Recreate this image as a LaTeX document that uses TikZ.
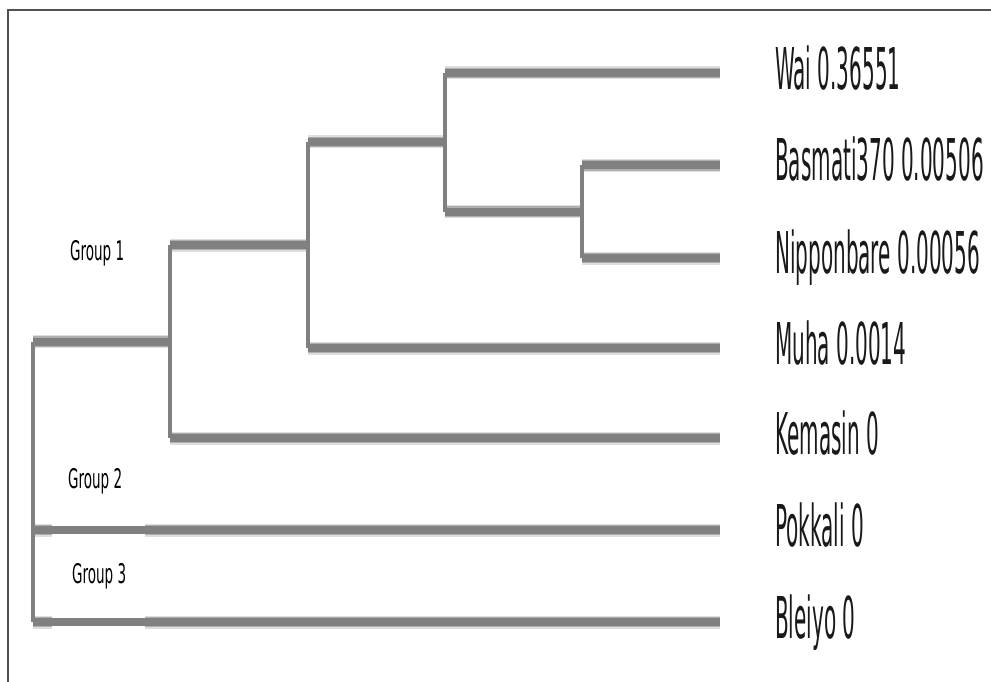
\documentclass[tikz,border=0pt]{standalone}
\usepackage{fontspec}
\newfontfamily\labfont{DejaVu Sans}
\definecolor{branchgray}{RGB}{128,128,128}
\definecolor{halogray}{RGB}{222,222,222}
\definecolor{halograyb}{RGB}{175,175,175}
\definecolor{framegray}{RGB}{80,80,80}
\definecolor{textdark}{RGB}{25,25,25}
\tikzset{
  halo/.style={draw=halogray, line width=13bp, line cap=butt},
  halob/.style={draw=halograyb, line width=10.5bp, line cap=butt},
  branch/.style={draw=branchgray, line width=8bp, line cap=butt},
  vert/.style={draw=branchgray, line width=3.5bp, line cap=butt},
  leaflabel/.style={anchor=base west, inner sep=0pt, text=textdark,
    font=\labfont\fontsize{57.6bp}{60bp}\selectfont},
  grouplabel/.style={anchor=base west, inner sep=0pt, text=black,
    font=\labfont\fontsize{27bp}{30bp}\selectfont},
}
\begin{document}
\begin{tikzpicture}[x=1bp,y=-1bp]
\useasboundingbox (0,0) rectangle (991,682);
\fill[white] (0,0) rectangle (991,682);
% frame
\draw[framegray, line width=1.5bp] (8,682) -- (8,10) -- (991,10);

% leaf tips
\coordinate (tWai) at (720,73);
\coordinate (tBas) at (720,165.5);
\coordinate (tNip) at (720,258);
\coordinate (tMuha) at (720,348);
\coordinate (tKem) at (720,438);
\coordinate (tPok) at (720,530);
\coordinate (tBle) at (720,622);
% internal nodes
\coordinate (n1) at (582,211.5);
\coordinate (n2) at (445,142);
\coordinate (n3) at (308,245);
\coordinate (n4) at (170,341.5);
\coordinate (root) at (33,341.5);
\coordinate (rootB) at (33,622);

% halos
\foreach \a/\b in {n1/tBas, n1/tNip, n2/tWai, n2/n1, n3/n2, n3/tMuha, n4/n3, n4/tKem, root/n4, rootB/tPok, rootB/tBle}
  {\path[halo] (\a |- \b) -- (\b); \path[halob] (\a |- \b) -- (\b);}
\fill[white] (52,521) rectangle (145,526);
\fill[white] (52,534) rectangle (145,539);
\fill[white] (52,613) rectangle (145,618);
\fill[white] (52,626) rectangle (145,631);

% horizontal branches
\foreach \a/\b in {n1/tBas, n1/tNip, n2/tWai, n2/n1, n3/n2, n3/tMuha, n4/n3, n4/tKem, root/n4, rootB/tPok, rootB/tBle}
  \path[branch] (\a |- \b) -- (\b);

% vertical connectors
\path[vert] (n1 |- tBas) -- (n1 |- tNip);
\path[vert] (n2 |- tWai) -- (n1 -| n2);
\path[vert] (n3 |- n2) -- (n3 |- tMuha);
\path[vert] (n4 |- n3) -- (n4 |- tKem);
\path[vert] (root) -- (rootB);

% leaf labels
\node[leaflabel] (lWai) at (775,90) {\scalebox{0.347}[1]{Wai 0.36551}};
\node[leaflabel] (lBas) at (775,181) {\scalebox{0.347}[1]{Basmati370 0.00506}};
\node[leaflabel] (lNip) at (775,273) {\scalebox{0.347}[1]{Nipponbare 0.00056}};
\node[leaflabel] (lMuha) at (775,364) {\scalebox{0.347}[1]{Muha 0.0014}};
\node[leaflabel] (lKem) at (775,454) {\scalebox{0.347}[1]{Kemasin 0}};
\node[leaflabel] (lPok) at (775,546) {\scalebox{0.347}[1]{Pokkali 0}};
\node[leaflabel] (lBle) at (775,638) {\scalebox{0.347}[1]{Bleiyo 0}};

% group labels
\node[grouplabel] (g1) at (70,260) {\scalebox{0.5}[1]{Group 1}};
\node[grouplabel] (g2) at (68,488) {\scalebox{0.5}[1]{Group 2}};
\node[grouplabel] (g3) at (72,583) {\scalebox{0.5}[1]{Group 3}};
\end{tikzpicture}
\end{document}
